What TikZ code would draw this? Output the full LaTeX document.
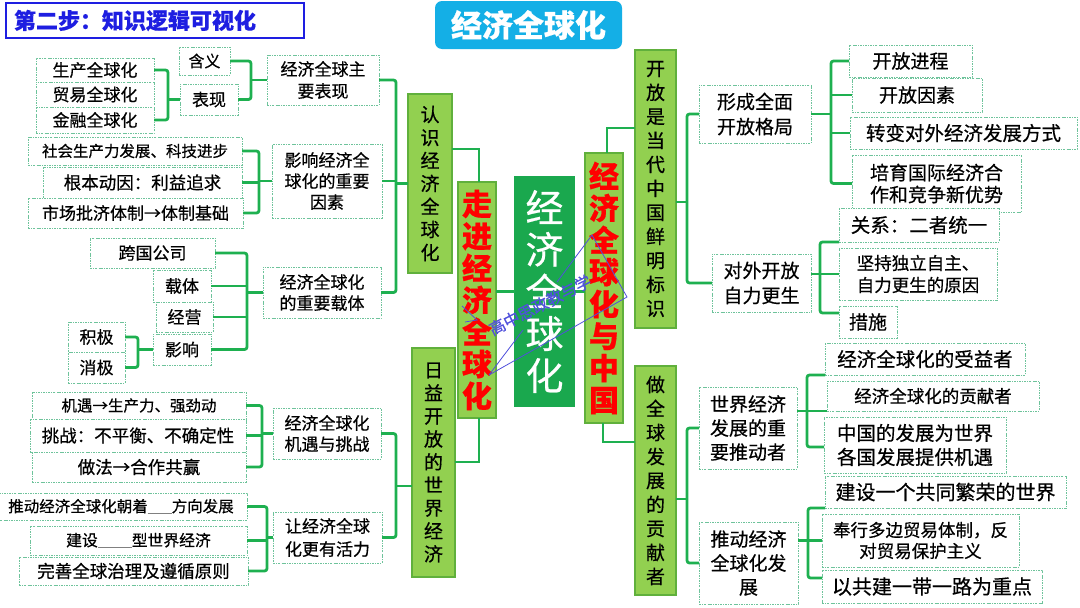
\documentclass[tikz,border=0pt]{standalone}
\usepackage{fontspec}
\setmainfont{Noto Sans CJK SC}[FakeBold=0.5]
\definecolor{dashc}{RGB}{110,195,155}
\definecolor{lgreen}{RGB}{30,176,80}
\definecolor{vgreen}{RGB}{146,208,80}
\definecolor{vbd}{RGB}{96,176,60}
\definecolor{cgreen}{RGB}{26,168,78}
\definecolor{cyanc}{RGB}{20,175,230}
\definecolor{tblue}{RGB}{30,30,225}
\definecolor{wmblue}{RGB}{80,80,220}
\definecolor{redt}{RGB}{255,0,0}
\newcommand\fs[2]{\fontsize{#1}{#2}\selectfont}
\newcommand\bx[7]{\node[#1, minimum width={(#5)-(#3)}, minimum height={(#6)-(#4)}] (#2) at ({((#3)+(#5))/2},{((#4)+(#6))/2}) {#7};}
\newcommand\blank[1]{{\color{gray}\rule[-2pt]{#1}{0.8pt}}}
\tikzset{
 leaf/.style={draw=dashc, dash pattern=on 2.2pt off 1.2pt on 0.6pt off 1.2pt, line width=0.8pt, fill=white, inner sep=0pt, outer sep=0pt, align=center},
 vb/.style={draw=vbd, fill=vgreen, line width=1.2pt, inner sep=0pt, outer sep=0pt, align=center},
 br/.style={draw=lgreen, line width=2.8pt, rounded corners=2.5pt},
 mainl/.style={draw=lgreen, line width=2.8pt},
 wml/.style={draw=wmblue, line width=0.8pt},
}
\begin{document}
\begin{tikzpicture}[x=1pt,y=-1pt]
\useasboundingbox[fill=white] (0,0) rectangle (1080,608);
% titles
\node[draw=tblue, line width=2.5pt, minimum width=298, minimum height=35, inner xsep=8pt, inner ysep=0pt, outer sep=0pt, text width=282pt, align=left, text=tblue, font=\fs{22}{22}\bfseries] (ttl) at (155,20.5) {第二步：知识逻辑可视化};
\node[fill=cyanc, rounded corners=7pt, minimum width=187, minimum height=48, inner sep=0pt, text=white, font=\fs{31}{31}\bfseries] (top) at (528.5,25) {经济全球化};
% left leaves
\bx{leaf,font=\fs{16}{20}}{hy}{179}{47}{230}{75}{含义}
\bx{leaf,font=\fs{17}{20}}{bxn}{180}{84}{238}{115}{表现}
\bx{leaf,font=\fs{17}{22}}{zy}{267}{55}{379}{105}{经济全球主\\要表现}
\bx{leaf,font=\fs{17}{20}}{sc}{36}{58}{154}{82}{生产全球化}
\bx{leaf,font=\fs{17}{20}}{my}{36}{82}{154}{107}{贸易全球化}
\bx{leaf,font=\fs{17}{20}}{jr}{36}{107}{154}{133}{金融全球化}
\bx{leaf,font=\fs{15.5}{20}}{sh}{28}{137}{242}{165}{社会生产力发展、科技进步}
\bx{leaf,font=\fs{17.5}{20}}{gb}{43}{167}{242}{198}{根本动因：利益追求}
\bx{leaf,font=\fs{17}{20}}{sx}{28}{198}{243}{228}{市场批济体制→体制基础}
\bx{leaf,font=\fs{17}{21}}{yx}{272}{144}{382}{218}{影响经济全\\球化的重要\\因素}
\bx{leaf,font=\fs{17}{20}}{kg}{90}{238}{215}{268}{跨国公司}
\bx{leaf,font=\fs{17}{20}}{zt}{153}{270}{211}{302}{载体}
\bx{leaf,font=\fs{17}{20}}{jyy}{156}{302}{213}{332}{经营}
\bx{leaf,font=\fs{17}{20}}{yxs}{153}{334}{211}{365}{影响}
\bx{leaf,font=\fs{17}{20}}{jj}{68}{322}{125}{352}{积极}
\bx{leaf,font=\fs{17}{20}}{xj}{68}{352}{125}{383}{消极}
\bx{leaf,font=\fs{17}{21}}{ztb}{263}{267}{381}{318}{经济全球化\\的重要载体}
\bx{leaf,font=\fs{15.5}{20}}{jyt}{32}{392}{246}{419}{机遇→生产力、强劲动}
\bx{leaf,font=\fs{17.5}{20}}{tz}{30}{419}{246}{452}{挑战：不平衡、不确定性}
\bx{leaf,font=\fs{17.5}{20}}{zf}{32}{452}{246}{482}{做法→合作共赢}
\bx{leaf,font=\fs{17}{21}}{jytz}{273}{408}{381}{459}{经济全球化\\机遇与挑战}
\bx{leaf,font=\fs{15.5}{20}}{td}{-5}{493}{247}{520}{推动经济全球化朝着\blank{24pt}方向发展}
\bx{leaf,font=\fs{15.8}{20}}{js}{30}{526}{247}{555}{建设\blank{34pt}型世界经济}
\bx{leaf,font=\fs{17.5}{20}}{ws}{19}{557}{248}{585}{完善全球治理及遵循原则}
\bx{leaf,font=\fs{17}{23}}{rh}{273}{512}{382}{563}{让经济全球\\化更有活力}
% vertical boxes
\bx{vb,font=\fs{19}{23}}{rs}{408}{94}{452}{273}{认\\识\\经\\济\\全\\球\\化}
\bx{vb,font=\fs{19}{23}}{ry}{412}{348}{455}{577}{日\\益\\开\\放\\的\\世\\界\\经\\济}
\bx{vb,text=redt,font=\fs{30}{32}\bfseries}{zj}{458}{182}{496}{418}{走\\进\\经\\济\\全\\球\\化}
\bx{vb,draw=cgreen,fill=cgreen,text=white,font=\fs{38}{42}}{ctr}{515}{177}{574}{406}{经\\济\\全\\球\\化}
\bx{vb,text=redt,font=\fs{30}{32}\bfseries}{zg}{585}{153}{623}{423}{经\\济\\全\\球\\化\\与\\中\\国}
\bx{vb,font=\fs{19}{24}}{kf}{635}{50}{676}{328}{开\\放\\是\\当\\代\\中\\国\\鲜\\明\\标\\识}
\bx{vb,font=\fs{19}{24}}{zq}{635}{366}{676}{595}{做\\全\\球\\发\\展\\的\\贡\\献\\者}
% right leaves
\bx{leaf,font=\fs{19}{25}}{xc}{699}{85}{811}{143}{形成全面\\开放格局}
\bx{leaf,font=\fs{19}{22}}{kfjc}{849}{45}{972}{77}{开放进程}
\bx{leaf,font=\fs{19}{22}}{kfys}{852}{78}{982}{112}{开放因素}
\bx{leaf,font=\fs{19.5}{22}}{zb}{850}{117}{1077}{149}{转变对外经济发展方式}
\bx{leaf,font=\fs{19}{22}}{py}{852}{155}{1021}{212}{培育国际经济合\\作和竞争新优势}
\bx{leaf,font=\fs{19}{25}}{dw}{712}{254}{811}{312}{对外开放\\自力更生}
\bx{leaf,font=\fs{19.5}{22}}{gx}{839}{208}{999}{242}{关系：二者统一}
\bx{leaf,font=\fs{17.5}{22}}{jc}{839}{248}{997}{300}{坚持独立自主、\\自力更生的原因}
\bx{leaf,font=\fs{19}{22}}{cs}{839}{306}{897}{338}{措施}
\bx{leaf,font=\fs{19.5}{22}}{syz}{825}{343}{1025}{375}{经济全球化的受益者}
\bx{leaf,font=\fs{17.5}{22}}{gxz}{827}{381}{1039}{411}{经济全球化的贡献者}
\bx{leaf,font=\fs{19.5}{24}}{jyu}{824}{417}{1006}{473}{中国的发展为世界\\各国发展提供机遇}
\bx{leaf,font=\fs{19}{24}}{sjtd}{699}{387}{797}{469}{世界经济\\发展的重\\要推动者}
\bx{leaf,font=\fs{20}{22}}{jsgt}{825}{476}{1066}{508}{建设一个共同繁荣的世界}
\bx{leaf,font=\fs{17.5}{21}}{fx}{822}{514}{1019}{567}{奉行多边贸易体制，反\\对贸易保护主义}
\bx{leaf,font=\fs{20}{22}}{yg}{822}{570}{1042}{603}{以共建一带一路为重点}
\bx{leaf,font=\fs{19}{24}}{tdfz}{699}{522}{798}{604}{推动经济\\全球化发\\展}
% main connectors
\coordinate (k1) at (479,149);
\draw[mainl] (rs.east |- k1) -- (k1) -- (k1 |- zj.north);
\draw[mainl] (zj.east |- ctr.west) -- (ctr.west);
\draw[mainl] (ctr.east) -- (ctr.east -| zg.west);
\coordinate (k2) at (479,462);
\draw[mainl] (k2 |- zj.south) -- (k2) -- (ry.east |- k2);
\coordinate (k3) at (607,128);
\draw[mainl] (k3 |- zg.north) -- (k3) -- (kf.west |- k3);
\coordinate (k4) at (603,442);
\draw[mainl] (k4 |- zg.south) -- (k4) -- (zq.west |- k4);
% left brackets
\coordinate (s1) at (251,0);
\draw[br] (hy.east) -- (hy.east -| s1) -- (bxn.east -| s1) -- (bxn.east);
\draw[br] (s1 |- zy.west) -- (zy.west);
\coordinate (s2) at (168,0);
\draw[br] (sc.east) -- (sc.east -| s2) -- (jr.east -| s2) -- (jr.east);
\draw[br] (s2 |- bxn.west) -- (bxn.west);
\coordinate (s3) at (259,0);
\draw[br] (sh.east) -- (sh.east -| s3) -- (sx.east -| s3) -- (sx.east);
\draw[br] (gb.east) -- (gb.east -| s3);
\draw[br] (s3 |- yx.west) -- (yx.west);
\coordinate (s4) at (247,0);
\draw[br] (kg.east) -- (kg.east -| s4) -- (yxs.east -| s4) -- (yxs.east);
\draw[br] (zt.east) -- (zt.east -| s4);
\draw[br] (jyy.east) -- (jyy.east -| s4);
\draw[br] (s4 |- ztb.west) -- (ztb.west);
\coordinate (s5) at (138,0);
\draw[br] (jj.east) -- (jj.east -| s5) -- (xj.east -| s5) -- (xj.east);
\draw[br] (s5 |- yxs.west) -- (yxs.west);
\coordinate (s6) at (262,0);
\draw[br] (jyt.east) -- (jyt.east -| s6) -- (zf.east -| s6) -- (zf.east);
\draw[br] (tz.east) -- (tz.east -| s6);
\draw[br] (s6 |- jytz.west) -- (jytz.west);
\coordinate (s7) at (267,0);
\draw[br] (td.east) -- (td.east -| s7) -- (ws.east -| s7) -- (ws.east);
\draw[br] (js.east) -- (js.east -| s7);
\draw[br] (s7 |- rh.west) -- (rh.west);
\coordinate (s8) at (396,0);
\draw[br] (zy.east) -- (zy.east -| s8) -- (ztb.east -| s8) -- (ztb.east);
\draw[br] (yx.east) -- (yx.east -| s8);
\draw[br] (s8 |- rs.west) -- (rs.west);
\coordinate (s9) at (396,486);
\draw[br] (jytz.east) -- (jytz.east -| s9) -- (rh.east -| s9) -- (rh.east);
\draw[br] (s9) -- (ry.west |- s9);
% right brackets
\coordinate (r1) at (687,202);
\draw[br] (xc.west) -- (xc.west -| r1) -- (dw.west -| r1) -- (dw.west);
\draw[br] (kf.east |- r1) -- (r1);
\coordinate (r2) at (831,0);
\draw[br] (kfjc.west) -- (kfjc.west -| r2) -- (py.west -| r2) -- (py.west);
\draw[br] (kfys.west -| r2) -- (kfys.west);
\draw[br] (zb.west -| r2) -- (zb.west);
\draw[br] (xc.east) -- (xc.east -| r2);
\coordinate (r3a) at (820,242);
\coordinate (r3b) at (820,313);
\draw[br] (gx.south west) -- (r3a) -- (r3b) -- (cs.west |- r3b);
\draw[br] (dw.east |- jc.west) -- (jc.west);
\coordinate (r4) at (687,499);
\draw[br] (sjtd.west) -- (sjtd.west -| r4) -- (tdfz.west -| r4) -- (tdfz.west);
\draw[br] (zq.east |- r4) -- (r4);
\coordinate (r5a) at (807,375);
\coordinate (r5b) at (807,447);
\draw[br] (syz.south west) -- (r5a) -- (r5b) -- (jyu.west |- r5b);
\draw[br] (sjtd.east |- gxz.south) -- (gxz.south west);
\coordinate (r6a) at (808,508);
\coordinate (r6b) at (808,578);
\draw[br] (jsgt.south west) -- (r6a) -- (r6b) -- (yg.west |- r6b);
\draw[br] (tdfz.east |- fx.west) -- (fx.west);
% watermark
\draw[wml] (489,375) -- (627,297) -- (592,235) -- (557,282);
\draw[wml] (489,375) -- (523,330);
\draw[wml] (462,306) -- (477,320) -- (465,322);
\node[rotate=27, text=wmblue, inner sep=0pt, font=\fs{16}{16}] (wm) at (540,305) {高中思政教与学};
\end{tikzpicture}
\end{document}
